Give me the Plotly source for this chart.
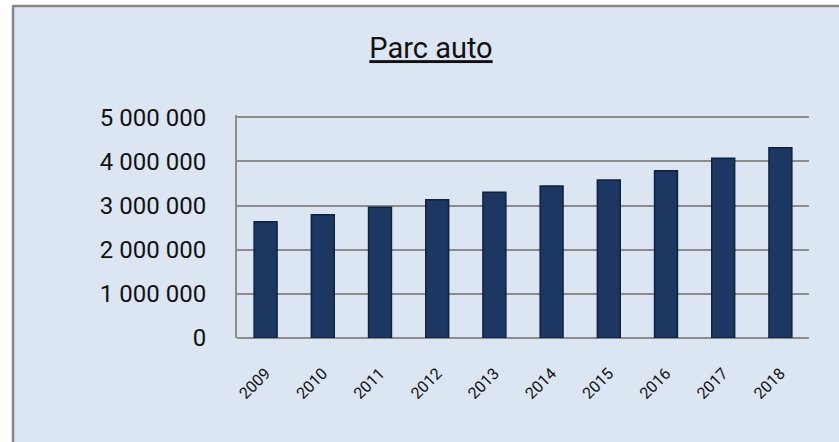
import plotly.graph_objects as go

# Parc automobile par année
years = ["2009", "2010", "2011", "2012", "2013", "2014", "2015", "2016", "2017", "2018"]
parc = [2630000, 2790000, 2960000, 3130000, 3300000, 3440000, 3580000, 3790000, 4070000, 4310000]
y_ticks = [0, 1000000, 2000000, 3000000, 4000000, 5000000]

bg = "#dce6f2"
grid = "#8c8c8c"
font_family = "Roboto, 'Open Sans', sans-serif"

fig = go.Figure()

fig.add_trace(go.Bar(
    x=years,
    y=parc,
    marker=dict(color="#1b3762", line=dict(color="#0f2140", width=1.5)),
    width=0.4,
))

# plot area: x 237 -> 809, y 115 -> 338 (pixels), 5 000 000 line at ~117
W, H = 839, 442
l, r, t, b = 237, 30, 115, 104
pw, ph = W - l - r, H - t - b

# chart frame (light blue with grey border on left/top, cut at right/bottom)
fig.add_shape(
    type="rect", xref="paper", yref="paper", layer="below",
    x0=(13 - l) / pw, x1=(W + 10 - l) / pw,
    y0=-(H + 10 - (H - b)) / ph, y1=(H - b - 6) / ph,
    fillcolor=bg, line=dict(color="#888888", width=2.5),
)

fig.update_layout(
    width=W, height=H,
    margin=dict(l=l, r=r, t=t, b=b),
    paper_bgcolor="white",
    plot_bgcolor="rgba(0,0,0,0)",
    separators=", ",
    showlegend=False,
    font=dict(family=font_family, color="#111111"),
    title=dict(
        text="<u>Parc auto</u>",
        x=431 / W, xanchor="center",
        y=1 - 48 / H, yanchor="middle",
        font=dict(size=29, family=font_family, color="#111111"),
    ),
    xaxis=dict(
        tickangle=-45,
        tickfont=dict(size=16),
        showgrid=False,
        showline=False,
        ticks="",
        ticklabelstandoff=22,
        range=[-0.5, 9.5],
    ),
    yaxis=dict(
        range=[0, 5050000],
        tickvals=y_ticks,
        tickformat=",d",
        tickfont=dict(size=24),
        showgrid=True,
        gridcolor=grid,
        gridwidth=2,
        zeroline=True,
        zerolinecolor=grid,
        zerolinewidth=2,
        showline=True,
        linecolor=grid,
        linewidth=2,
        ticks="",
        ticklabelstandoff=24,
    ),
)

fig.write_html("out.html", config={"displayModeBar": False},
               post_script="document.body.style.margin='0';")
